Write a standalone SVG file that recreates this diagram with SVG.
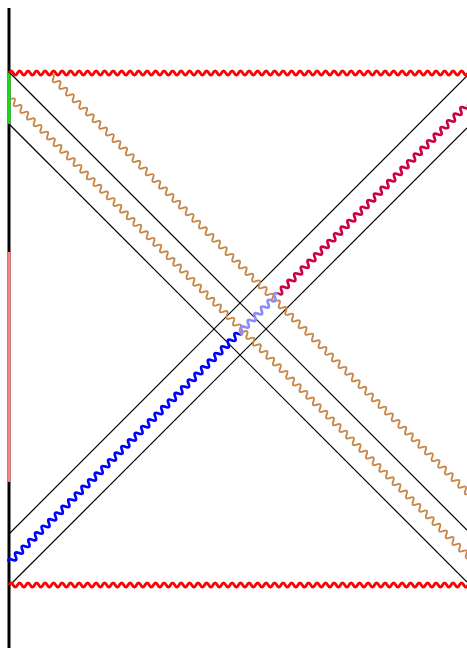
<svg xmlns="http://www.w3.org/2000/svg" xmlns:xlink="http://www.w3.org/1999/xlink" width="467" height="648" viewBox="0 0 467 648">
<style>
.w{fill:none;stroke-linejoin:round;stroke-linecap:butt}
.red{stroke:#ff0000;stroke-width:2.8}
.brown{stroke:#c8874a;stroke-width:1.9}
.blue{stroke:#0000ff;stroke-width:2.7}
.lav{stroke:#8c8cff;stroke-width:2.7}
.crim{stroke:#cc0044;stroke-width:2.7}
.diag{stroke:#000;stroke-width:1.2;fill:none}
.axis{stroke-width:3;fill:none}
</style>
<defs>
<path id="wave" d="M0,0q2.125,-4 4.25,0t4.25,0t4.25,0t4.25,0t4.25,0t4.25,0t4.25,0t4.25,0t4.25,0t4.25,0t4.25,0t4.25,0t4.25,0t4.25,0t4.25,0t4.25,0t4.25,0t4.25,0t4.25,0t4.25,0t4.25,0t4.25,0t4.25,0t4.25,0t4.25,0t4.25,0t4.25,0t4.25,0t4.25,0t4.25,0t4.25,0t4.25,0t4.25,0t4.25,0t4.25,0t4.25,0t4.25,0t4.25,0t4.25,0t4.25,0t4.25,0t4.25,0t4.25,0t4.25,0t4.25,0t4.25,0t4.25,0t4.25,0t4.25,0t4.25,0t4.25,0t4.25,0t4.25,0t4.25,0t4.25,0t4.25,0t4.25,0t4.25,0t4.25,0t4.25,0t4.25,0t4.25,0t4.25,0t4.25,0t4.25,0t4.25,0t4.25,0t4.25,0t4.25,0t4.25,0t4.25,0t4.25,0t4.25,0t4.25,0t4.25,0t4.25,0t4.25,0t4.25,0t4.25,0t4.25,0t4.25,0t4.25,0t4.25,0t4.25,0t4.25,0t4.25,0t4.25,0t4.25,0t4.25,0t4.25,0t4.25,0t4.25,0t4.25,0t4.25,0t4.25,0t4.25,0t4.25,0t4.25,0t4.25,0t4.25,0t4.25,0t4.25,0t4.25,0t4.25,0t4.25,0t4.25,0t4.25,0t4.25,0t4.25,0t4.25,0t4.25,0"/>
<path id="wave2" d="M0,0q2.35,-5.5 4.7,0t4.7,0t4.7,0t4.7,0t4.7,0t4.7,0t4.7,0t4.7,0t4.7,0t4.7,0t4.7,0t4.7,0t4.7,0t4.7,0t4.7,0t4.7,0t4.7,0t4.7,0t4.7,0t4.7,0t4.7,0t4.7,0t4.7,0t4.7,0t4.7,0t4.7,0t4.7,0t4.7,0t4.7,0t4.7,0t4.7,0t4.7,0t4.7,0t4.7,0t4.7,0t4.7,0t4.7,0t4.7,0t4.7,0t4.7,0t4.7,0t4.7,0t4.7,0t4.7,0t4.7,0t4.7,0t4.7,0t4.7,0t4.7,0t4.7,0t4.7,0t4.7,0t4.7,0t4.7,0t4.7,0t4.7,0t4.7,0t4.7,0t4.7,0t4.7,0t4.7,0t4.7,0t4.7,0t4.7,0t4.7,0t4.7,0t4.7,0t4.7,0t4.7,0t4.7,0t4.7,0t4.7,0t4.7,0t4.7,0t4.7,0t4.7,0t4.7,0t4.7,0t4.7,0t4.7,0t4.7,0t4.7,0t4.7,0t4.7,0t4.7,0t4.7,0t4.7,0t4.7,0t4.7,0t4.7,0t4.7,0t4.7,0t4.7,0t4.7,0t4.7,0t4.7,0t4.7,0t4.7,0t4.7,0t4.7,0t4.7,0t4.7,0t4.7,0t4.7,0t4.7,0t4.7,0t4.7,0t4.7,0t4.7,0t4.7,0t4.7,0t4.7,0t4.7,0t4.7,0t4.7,0t4.7,0t4.7,0t4.7,0t4.7,0t4.7,0t4.7,0t4.7,0t4.7,0t4.7,0t4.7,0t4.7,0t4.7,0t4.7,0t4.7,0t4.7,0t4.7,0t4.7,0t4.7,0t4.7,0t4.7,0t4.7,0t4.7,0t4.7,0"/>
<clipPath id="cBlue" clipPathUnits="userSpaceOnUse"><rect x="0" y="-20" width="325.3" height="40"/></clipPath>
<clipPath id="cLav" clipPathUnits="userSpaceOnUse"><rect x="325.3" y="-20" width="55.2" height="40"/></clipPath>
<clipPath id="cCrim" clipPathUnits="userSpaceOnUse"><rect x="380.5" y="-20" width="400" height="40"/></clipPath>
</defs>
<g id="axis">
<line class="axis" x1="9" y1="8" x2="9" y2="648" stroke="#000"/>
<line class="axis" x1="9" y1="73" x2="9" y2="124" stroke="#11dd11"/>
<line class="axis" x1="9" y1="252" x2="9" y2="482" stroke="#ff8080"/>
</g>
<g id="connectors">
<line class="diag" x1="9" y1="72" x2="467" y2="530"/>
<line class="diag" x1="9" y1="124" x2="467" y2="582"/>
<line class="diag" x1="9" y1="534" x2="467" y2="76"/>
<line class="diag" x1="9" y1="586" x2="467" y2="128"/>
</g>
<g id="brown-waves">
<use xlink:href="#wave2" class="w brown" transform="translate(50,75) rotate(45)"/>
<use xlink:href="#wave2" class="w brown" transform="translate(11,99) rotate(45)"/>
</g>
<g id="signal" transform="translate(9,563) rotate(-45)">
<use xlink:href="#wave2" class="w blue" clip-path="url(#cBlue)"/>
<use xlink:href="#wave2" class="w lav" clip-path="url(#cLav)"/>
<use xlink:href="#wave2" class="w crim" clip-path="url(#cCrim)"/>
</g>
<g id="singularities">
<use xlink:href="#wave" class="w red" transform="translate(9,73)"/>
<use xlink:href="#wave" class="w red" transform="translate(9,585)"/>
</g>
</svg>
